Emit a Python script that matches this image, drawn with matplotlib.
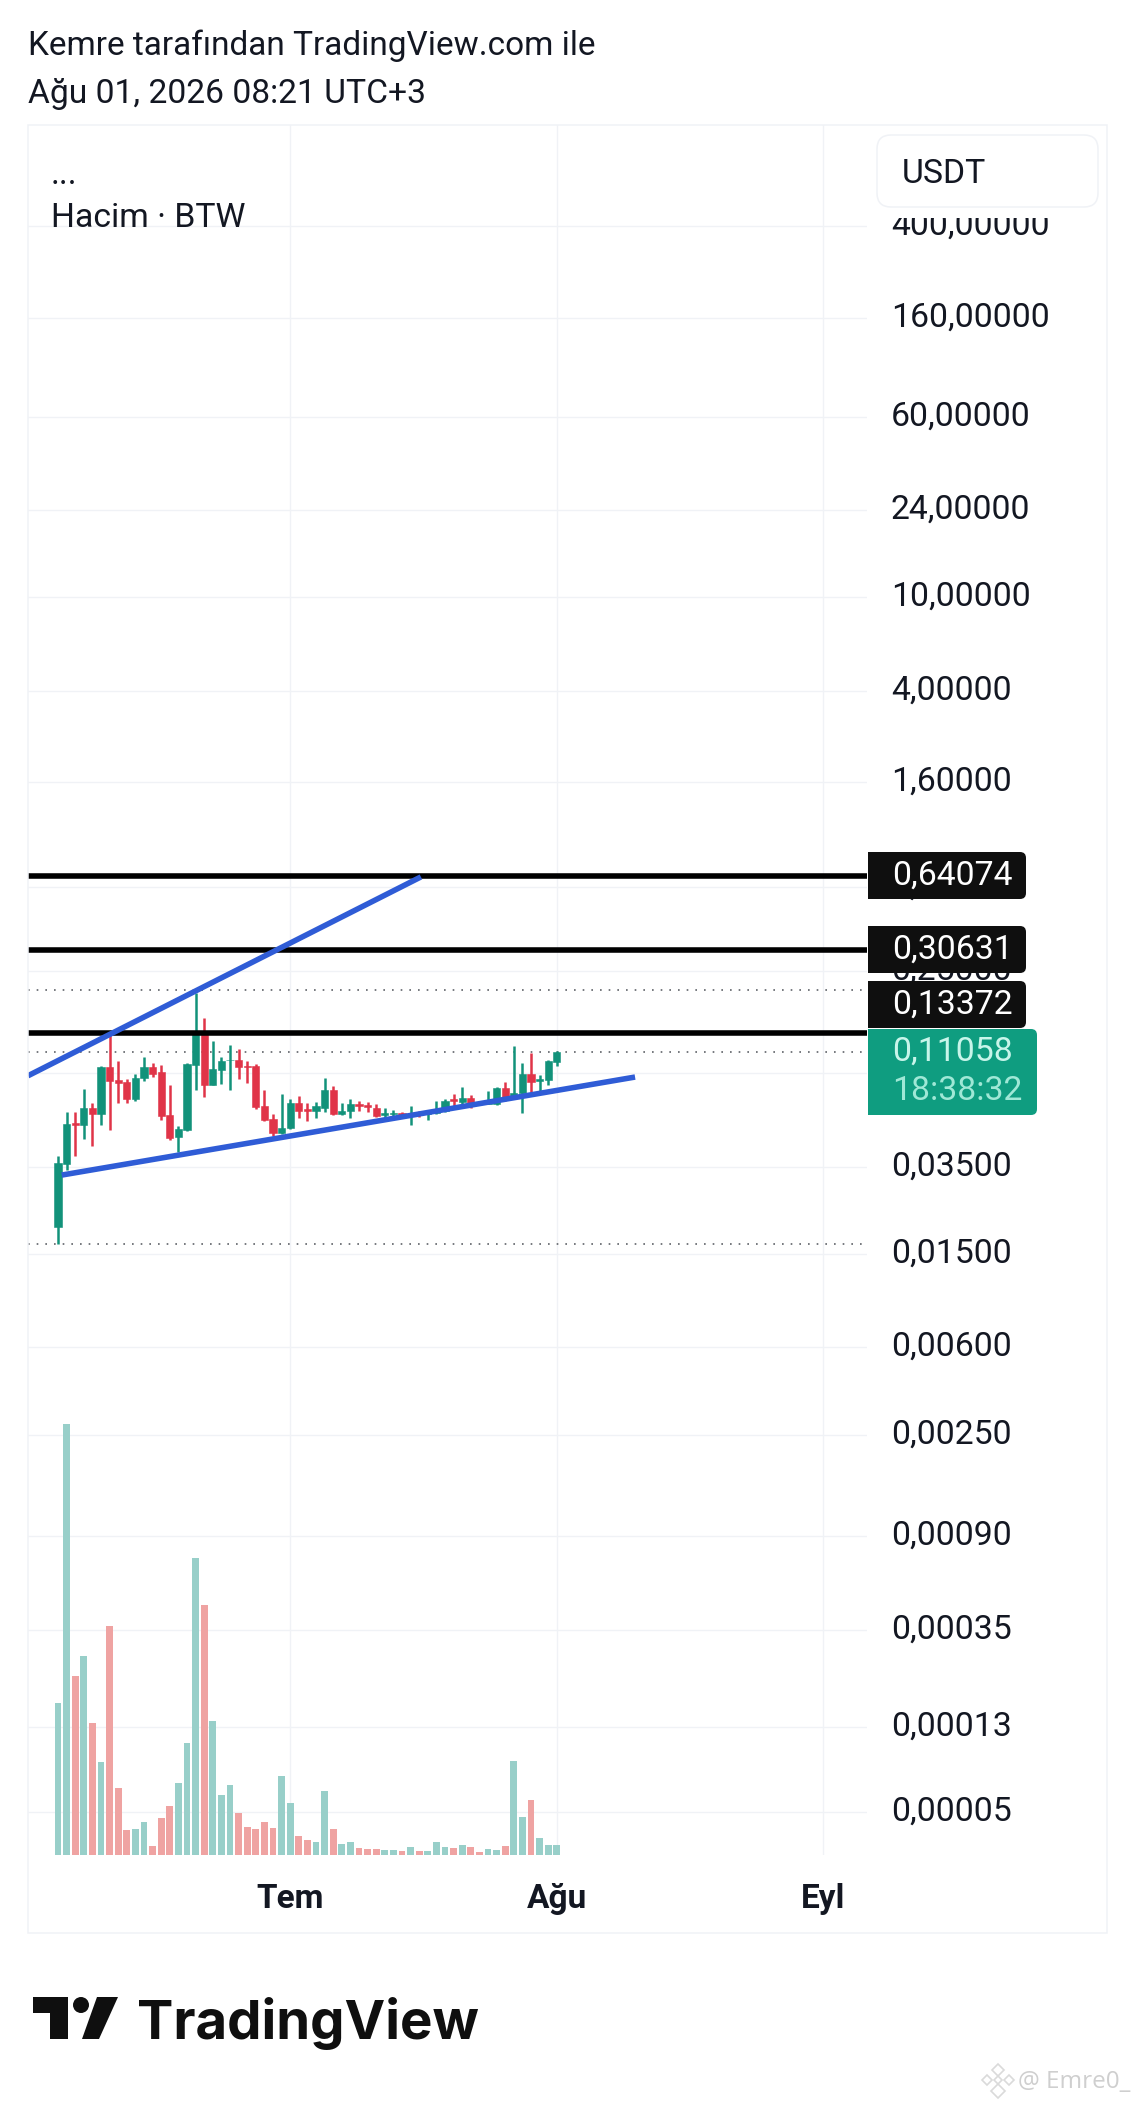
# TRADINGVIEW SNAPSHOT - BTW/USDT DAILY

import numpy as np
import matplotlib
matplotlib.use('Agg')
import matplotlib.pyplot as plt
from matplotlib.patches import FancyBboxPatch, Rectangle, Polygon, Circle
from matplotlib.transforms import ScaledTranslation

plt.rcParams['font.family'] = ['Roboto', 'DejaVu Sans']

W, H = 1135, 2104
FS = 24.3
INK = '#131722'
GRID = '#F0F2F6'
UP = '#12927A'
DOWN = '#E03448'
UP_VOL = '#98CFC9'
DOWN_VOL = '#EFA3A2'
BLUE = '#2F5CD6'

# candles, one per day
opens = [0.0193, 0.0360, 0.0542, 0.0533, 0.0634, 0.0593, 0.0952, 0.0831, 0.0817, 0.0691,
         0.0853, 0.0947, 0.0902, 0.0587, 0.0472, 0.0506, 0.0969, 0.1330, 0.0796, 0.0927,
         0.1015, 0.1015, 0.0965, 0.0959, 0.0643, 0.0564, 0.0492, 0.0517, 0.0666, 0.0624,
         0.0611, 0.0634, 0.0757, 0.0595, 0.0613, 0.0656, 0.0649, 0.0634, 0.0591, 0.0593,
         0.0598, 0.0586, 0.0600, 0.0593, 0.0598, 0.0613, 0.0689, 0.0669, 0.0701, 0.0666,
         0.0658, 0.0656, 0.0770, 0.0713, 0.0732, 0.0885, 0.0823, 0.0834, 0.1000]
closes = [0.0364, 0.0537, 0.0533, 0.0634, 0.0593, 0.0952, 0.0828, 0.0812, 0.0689, 0.0856,
          0.0950, 0.0885, 0.0581, 0.0470, 0.0510, 0.0978, 0.1330, 0.0796, 0.0934, 0.1005,
          0.1023, 0.0950, 0.0952, 0.0636, 0.0558, 0.0491, 0.0519, 0.0666, 0.0611, 0.0615,
          0.0643, 0.0753, 0.0593, 0.0613, 0.0654, 0.0647, 0.0638, 0.0584, 0.0600, 0.0602,
          0.0575, 0.0595, 0.0586, 0.0603, 0.0620, 0.0680, 0.0678, 0.0701, 0.0645, 0.0656,
          0.0669, 0.0772, 0.0706, 0.0732, 0.0888, 0.0820, 0.0842, 0.1006, 0.11058]
highs = [0.0389, 0.0609, 0.0609, 0.0762, 0.0666, 0.0962, 0.1320, 0.1006, 0.0842, 0.0890,
         0.1050, 0.0991, 0.0969, 0.0793, 0.0528, 0.0991, 0.2000, 0.1558, 0.1235, 0.1048,
         0.1190, 0.1140, 0.1006, 0.0975, 0.0753, 0.0593, 0.0724, 0.0694, 0.0711, 0.0662,
         0.0669, 0.0848, 0.0783, 0.0662, 0.0689, 0.0674, 0.0669, 0.0656, 0.0630, 0.0620,
         0.0607, 0.0643, 0.0611, 0.0615, 0.0678, 0.0689, 0.0729, 0.0779, 0.0718, 0.0678,
         0.0747, 0.0779, 0.0815, 0.1178, 0.0991, 0.1098, 0.0882, 0.1020, 0.1118]
lows = [0.0162, 0.0339, 0.0391, 0.0462, 0.0432, 0.0532, 0.0508, 0.0662, 0.0664, 0.0680,
        0.0825, 0.0864, 0.0559, 0.0458, 0.0408, 0.0503, 0.0757, 0.0703, 0.0793, 0.0801,
        0.0757, 0.0842, 0.0809, 0.0625, 0.0553, 0.0479, 0.0489, 0.0514, 0.0571, 0.0556,
        0.0572, 0.0607, 0.0591, 0.0591, 0.0572, 0.0613, 0.0607, 0.0579, 0.0573, 0.0579,
        0.0571, 0.0532, 0.0577, 0.0560, 0.0593, 0.0609, 0.0645, 0.0656, 0.0630, 0.0649,
        0.0654, 0.0649, 0.0678, 0.0708, 0.0603, 0.0732, 0.0737, 0.0793, 0.0962]
volumes = [456, 1293, 537, 597, 396, 279, 687, 201, 75, 78,
           99, 27, 111, 147, 216, 336, 891, 750, 402, 180,
           210, 126, 84, 78, 99, 81, 237, 156, 57, 45,
           39, 192, 78, 33, 39, 21, 18, 18, 15, 15,
           12, 24, 12, 12, 39, 24, 21, 30, 24, 9,
           18, 15, 27, 282, 114, 165, 51, 30, 30]

# price scale, value where each gridline sits and the label it shows
tick_values = [423, 169, 62.8, 24.8, 10.4, 4.07, 1.64, 0.574, 0.248, 0.0895,
               0.0350, 0.01468, 0.0058, 0.0024, 0.00088, 0.000343, 0.00013, 0.0000557]
tick_labels = ['400,00000', '160,00000', '60,00000', '24,00000', '10,00000', '4,00000',
               '1,60000', '0,60000', '0,25000', '0,09000', '0,03500', '0,01500', '0,00600',
               '0,00250', '0,00090', '0,00035', '0,00013', '0,00005']

# time scale
month_days = [27, 58, 89]
month_labels = ['Tem', 'Ağu', 'Eyl']

# drawings
levels = [0.64074, 0.30631, 0.13372]
dotted_levels = [0.2055, 0.11058, 0.0162]
upper_x = [-3.49, 42.2]
upper_y = [0.0871, 0.635]
lower_x = [0.43, 67.1]
lower_y = [0.0323, 0.0860]

fig = plt.figure(figsize=(W / 100, H / 100), dpi=100, facecolor='white')

# pane in pixels: 28-867 wide, 125-1855 high
rect = [28 / W, 1 - 1855 / H, (867 - 28) / W, (1855 - 125) / H]
ax = fig.add_axes(rect, zorder=1)
vol = fig.add_axes(rect, zorder=2)
x_lim = ((28 - 58) / 8.6, (867 - 58) / 8.6)

days = np.arange(len(opens))
o = np.array(opens)
c = np.array(closes)
rising = c >= o
colors = [UP if r else DOWN for r in rising]

ax.set_yscale('log')
ax.grid(True, color=GRID, linewidth=1.0)
ax.set_axisbelow(True)
ax.vlines(days, lows, highs, colors=colors, linewidth=1.8, zorder=3)
ax.bar(days, np.abs(c - o), bottom=np.minimum(o, c), width=0.84, color=colors,
       edgecolor=colors, linewidth=0.4, zorder=3)

ax.hlines(levels, x_lim[0], x_lim[1], color='black', linewidth=4.0, zorder=5)
for y in dotted_levels:
    ax.plot([x_lim[0], 93.6], [y, y], color='#5F6268', linewidth=1.2,
            linestyle=(0, (1, 4.2)), zorder=2)
ax.plot(upper_x, upper_y, color=BLUE, linewidth=4.0, solid_capstyle='butt', zorder=6)
ax.plot(lower_x, lower_y, color=BLUE, linewidth=4.0, solid_capstyle='butt', zorder=6)

ax.set_xlim(x_lim)
ax.set_ylim(3.626e-5, 1161)
ax.set_yticks(tick_values)
ax.set_yticklabels(tick_labels)
ax.minorticks_off()
ax.yaxis.tick_right()
ax.set_xticks(month_days)
ax.set_xticklabels(month_labels, fontweight='bold')
ax.tick_params(axis='y', length=0, pad=18, labelsize=FS, labelcolor=INK)
ax.tick_params(axis='x', length=0, pad=20.5, labelsize=24, labelcolor=INK)
for side in ax.spines.values():
    side.set_visible(False)

# labels sit a little above their gridline
nudge = ScaledTranslation(-1 / 100, 4 / 100, fig.dpi_scale_trans)
for lab in ax.get_yticklabels():
    lab.set_transform(lab.get_transform() + nudge)

vol.patch.set_visible(False)
vol.axis('off')
vol.bar(days, volumes, width=0.8, color=[UP_VOL if r else DOWN_VOL for r in rising])
vol.set_xlim(x_lim)
vol.set_ylim(0, 5190)

# everything outside the scales goes on a pixel overlay
top = fig.add_axes([0, 0, 1, 1], zorder=5)
top.set_xlim(0, W)
top.set_ylim(H, 0)
top.axis('off')

top.add_patch(Rectangle((28, 125), 1079, 1808, fill=False, edgecolor=GRID, linewidth=1.1))
top.text(28, 46, 'Kemre tarafından TradingView.com ile', fontsize=24.05, color=INK, va='center')
top.text(28, 94, 'Ağu 01, 2026 08:21 UTC+3', fontsize=24.2, color=INK, va='center')
top.text(51, 175, '...', fontsize=FS, color=INK, va='center')
top.text(51, 218, 'Hacim · BTW', fontsize=FS, color=INK, va='center')

# legend box hides the top of the 400 label
top.add_patch(Rectangle((877, 160), 221, 58, facecolor='white', edgecolor='none'))
top.add_patch(FancyBboxPatch((877, 135), 221, 72, boxstyle='round,pad=0,rounding_size=14',
                             facecolor='white', edgecolor='#F0F2F6', linewidth=1.1))
top.text(902, 174, 'USDT', fontsize=FS, color=INK, va='center')


def tag(y0, y1, x1, color):
    top.add_patch(FancyBboxPatch((868, y0), x1 - 868, y1 - y0,
                                 boxstyle='round,pad=0,rounding_size=6', facecolor=color, edgecolor='none'))
    top.add_patch(Rectangle((868, y0), 20, y1 - y0, facecolor=color, edgecolor='none'))


tag(852, 899, 1026, '#0F0F0F')
tag(926, 973, 1026, '#0F0F0F')
tag(981, 1028, 1026, '#0F0F0F')
tag(1029, 1115, 1037, '#0F9D80')
top.text(892, 876, '0,64074', fontsize=FS, color='white', va='center')
top.text(892, 950, '0,30631', fontsize=FS, color='white', va='center')
top.text(892, 1005, '0,13372', fontsize=FS, color='white', va='center')
top.text(892, 1052, '0,11058', fontsize=FS, color='#C8F5EA', va='center')
top.text(892, 1091, '18:38:32', fontsize=FS, color='#9FE8D6', va='center')

# logo
top.add_patch(Polygon([(33, 1997), (68, 1997), (68, 2039), (50, 2039), (50, 2013), (33, 2013)],
                      facecolor='#0F0F0F', edgecolor='none'))
top.add_patch(Circle((81, 2005), 8, facecolor='#0F0F0F', edgecolor='none'))
top.add_patch(Polygon([(97, 1997), (118, 1997), (99, 2039), (82, 2039)],
                      facecolor='#0F0F0F', edgecolor='none'))
top.text(137, 2039, 'TradingView', fontsize=39.3, fontweight='bold', color='#0F0F0F',
         family=['Inter', 'DejaVu Sans'], va='baseline')

# watermark
for cx, cy, r in [(998, 2070, 6), (987, 2080, 5), (1009, 2080, 5), (998, 2091, 7), (998, 2080, 4)]:
    top.add_patch(Polygon([(cx, cy - r), (cx + r, cy), (cx, cy + r), (cx - r, cy)],
                          fill=False, edgecolor='#DADADA', linewidth=1.2))
top.text(1018, 2082, '@ Emre0_', fontsize=17.5, color='#CFCFCF', va='center',
         family=['Open Sans', 'DejaVu Sans'])

fig.savefig('out.png', dpi=100)
